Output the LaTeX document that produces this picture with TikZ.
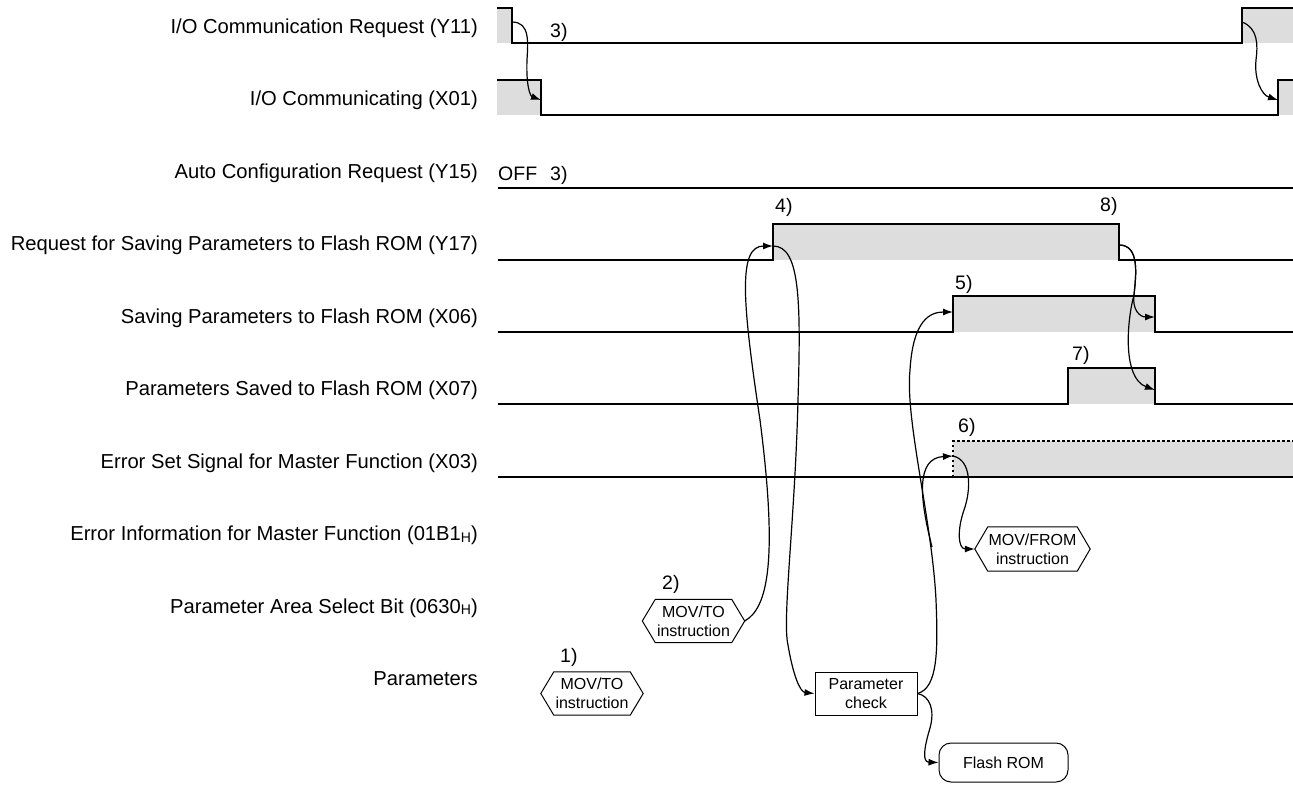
\documentclass[tikz,border=0pt]{standalone}
\usepackage{fontspec}
\setmainfont{Liberation Sans}
\usetikzlibrary{arrows.meta}
\definecolor{sigfill}{RGB}{221,221,221}

% hexagonal instruction box drawn around a named rectangular node
\newcommand\hexoutline[1]{%
  \draw[line width=1pt]
    ([xshift=13pt]#1.north west) -- ([xshift=-13pt]#1.north east) -- (#1.east)
    -- ([xshift=-13pt]#1.south east) -- ([xshift=13pt]#1.south west) -- (#1.west) -- cycle;}
\newcommand\subH{\raisebox{-1.5pt}{\fontsize{14}{14}\selectfont H}}

\begin{document}
\begin{tikzpicture}[x=1pt,y=-1pt,
  siglabel/.style={anchor=base east, inner sep=0pt, font=\fontsize{20.2}{24}\selectfont},
  steplabel/.style={anchor=base west, inner sep=0pt, font=\fontsize{19.5}{23}\selectfont},
  wave/.style={line width=1.3pt, line join=miter},
  heavywave/.style={line width=2pt},
  flow/.style={line width=1.2pt, -{Latex[length=10pt,width=7pt]}},
  smalltext/.style={font=\fontsize{16}{19}\selectfont, align=center, inner sep=0pt},
  hexbox/.style={smalltext, rectangle, minimum width=102pt, minimum height=43pt},
  procbox/.style={smalltext, rectangle, draw, line width=1pt, minimum width=102pt, minimum height=43pt},
  storebox/.style={smalltext, rectangle, draw, line width=1pt, rounded corners=12pt, minimum width=129pt, minimum height=39pt}
]
\useasboundingbox (0,0) rectangle (1293,785);

% ---- signal names ----
\node[siglabel] (l1) at (478,33) {I/O Communication Request (Y11)};
\node[siglabel] (l2) at (478,105.5) {I/O Communicating (X01)};
\node[siglabel] (l3) at (478,178) {Auto Configuration Request (Y15)};
\node[siglabel] (l4) at (478,250.5) {Request for Saving Parameters to Flash ROM (Y17)};
\node[siglabel] (l5) at (478,323) {Saving Parameters to Flash ROM (X06)};
\node[siglabel] (l6) at (478,395.5) {Parameters Saved to Flash ROM (X07)};
\node[siglabel] (l7) at (478,468) {Error Set Signal for Master Function (X03)};
\node[siglabel] (l8) at (478,540.5) {Error Information for Master Function (01B1\subH)};
\node[siglabel] (l9) at (478,613) {Parameter Area Select Bit (0630\subH)};
\node[siglabel] (l10) at (478,685.5) {Parameters};

% ---- ON periods ----
\fill[sigfill] (497,8) rectangle (512,43);
\fill[sigfill] (1242,8) rectangle (1293,43);
\fill[sigfill] (497,80) rectangle (541,115);
\fill[sigfill] (1278,80) rectangle (1293,115);
\fill[sigfill] (773,224) rectangle (1119,260);
\fill[sigfill] (953,296) rectangle (1155,332);
\fill[sigfill] (1068,368) rectangle (1155,404);
\fill[sigfill] (953,441) rectangle (1293,477);

% ---- waveforms ----
\draw[wave] (497,8) -- (512,8) -- (512,43) -- (1242,43) -- (1242,8) -- (1293,8);
\draw[wave] (497,80) -- (541,80) -- (541,115) -- (1278,115) -- (1278,80) -- (1293,80);
\draw[heavywave] (498,187.5) -- (1293,187.5);
\draw[wave] (498,260) -- (773,260) -- (773,224) -- (1119,224) -- (1119,260) -- (1293,260);
\draw[wave] (498,332) -- (953,332) -- (953,296) -- (1155,296) -- (1155,332) -- (1293,332);
\draw[wave] (498,404) -- (1068,404) -- (1068,368) -- (1155,368) -- (1155,404) -- (1293,404);
\draw[heavywave] (498,477) -- (1293,477);
\draw[line width=1.5pt, dash pattern=on 2.5pt off 2.5pt] (953,477) -- (953,441) -- (1293,441);

% ---- step numbers ----
\node[steplabel] (s3a) at (550,37) {3)};
\node[steplabel] (off) at (498,180) {OFF};
\node[steplabel] (s3b) at (550,180) {3)};
\node[steplabel] (s4) at (775,212) {4)};
\node[steplabel] (s8) at (1100,211) {8)};
\node[steplabel] (s5) at (955,289) {5)};
\node[steplabel] (s7) at (1072,360) {7)};
\node[steplabel] (s6) at (958,432) {6)};
\node[steplabel] (s2) at (662,589) {2)};
\node[steplabel] (s1) at (560,662) {1)};

% ---- instruction and processing boxes ----
\node[hexbox] (hex1) at (592,693.5) {MOV/TO\\instruction};
\hexoutline{hex1}
\node[hexbox] (hex2) at (693.5,621) {MOV/TO\\instruction};
\hexoutline{hex2}
\node[hexbox, minimum width=115pt, minimum height=44pt] (mf) at (1032.5,549) {MOV/FROM\\instruction};
\hexoutline{mf}
\node[procbox] (pc) at (866,693.5) {Parameter\\check};
\node[storebox] (fr) at (1003.5,762.5) {Flash ROM};

% ---- signal edges used by the connectors ----
\coordinate (y11fall) at (512,22);
\coordinate (x01fall) at (541,100);
\coordinate (y11rise) at (1242,22);
\coordinate (x01rise) at (1278,100);
\coordinate (y17rise) at (773,246);
\coordinate (y17fall) at (1119,245);
\coordinate (x06rise) at (953,312);
\coordinate (x06fall) at (1155,317);
\coordinate (x07fall) at (1155,390);
\coordinate (x03rise) at (953,456);
\coordinate (errbranch) at (932,547);

% ---- connectors ----
\draw[flow] (y11fall) .. controls (530,22) and (528,42) .. (527,60)
  .. controls (526,85) and (530,96) .. (x01fall);
\draw[flow] (y11rise) .. controls (1258,28) and (1258,45) .. (1256,60)
  .. controls (1254,80) and (1262,95) .. (x01rise);
\draw[flow] (hex2.east) .. controls (768,608) and (778,560) .. (760,420)
  .. controls (742,300) and (738,246) .. (y17rise);
\draw[flow] (y17rise) .. controls (800,246) and (801,300) .. (798,400)
  .. controls (795,520) and (782,620) .. (788,645)
  .. controls (793,675) and (800,692) .. (pc.west);
\draw[flow] (pc.east) .. controls (938,688) and (938,650) .. (936,600)
  .. controls (932,520) and (905,420) .. (910,370)
  .. controls (913,320) and (930,312) .. (x06rise);
\draw[flow] (pc.east) .. controls (930,696) and (935,710) .. (930,728)
  .. controls (924,748) and (922,762) .. (fr.west);
\draw[flow] (errbranch) .. controls (920,500) and (915,458) .. (x03rise);
\draw[flow] (x03rise) .. controls (972,460) and (971,490) .. (964,510)
  .. controls (957,530) and (958,549) .. (mf.west);
\draw[flow] (y17fall) .. controls (1140,245) and (1136,275) .. (1134,295)
  .. controls (1132,310) and (1140,317) .. (x06fall);
\draw[flow] (y17fall) .. controls (1140,245) and (1136,275) .. (1134,295)
  .. controls (1127,320) and (1122,378) .. (x07fall);
\end{tikzpicture}
\end{document}
